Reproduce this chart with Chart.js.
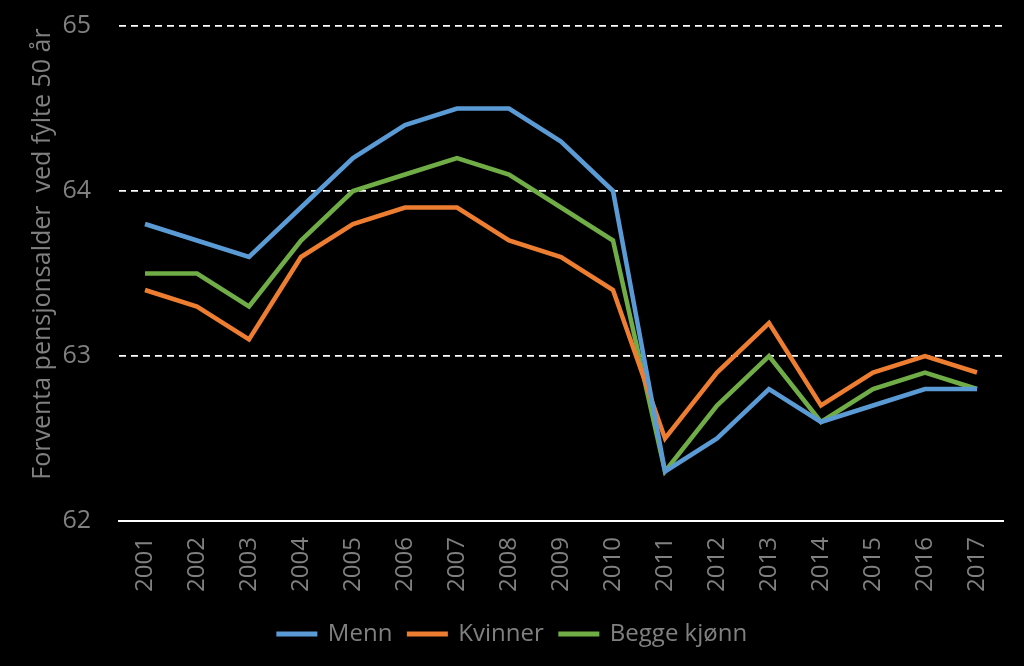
<!DOCTYPE html>
<html>
<head>
<meta charset="utf-8">
<script src="https://cdn.jsdelivr.net/npm/chart.js@4"></script>
<style>
  html, body { margin: 0; padding: 0; background: #000; }
  #wrap { width: 1024px; height: 666px; }
</style>
</head>
<body>
<div id="wrap"><canvas id="chart"></canvas></div>
<script>
"use strict";

// Årstall langs x-aksen
const years = ["2001", "2002", "2003", "2004", "2005", "2006", "2007", "2008", "2009",
  "2010", "2011", "2012", "2013", "2014", "2015", "2016", "2017"];

// Forventa pensjonsalder
const menn = [63.8, 63.7, 63.6, 63.9, 64.2, 64.4, 64.5, 64.5, 64.3, 64.0, 62.3, 62.5, 62.8, 62.6, 62.7, 62.8, 62.8];
const kvinner = [63.4, 63.3, 63.1, 63.6, 63.8, 63.9, 63.9, 63.7, 63.6, 63.4, 62.5, 62.9, 63.2, 62.7, 62.9, 63.0, 62.9];
const begge = [63.5, 63.5, 63.3, 63.7, 64.0, 64.1, 64.2, 64.1, 63.9, 63.7, 62.3, 62.7, 63.0, 62.6, 62.8, 62.9, 62.8];

const yTicks = [62, 63, 64, 65];

const grey = "#808080";
const font = "'Open Sans', 'DejaVu Sans', sans-serif";

function serie(label, data, color) {
  return {
    label: label,
    data: data,
    borderColor: color,
    backgroundColor: color,
    borderWidth: 4.5,
    pointRadius: 0,
    tension: 0,
    fill: false,
  };
}

new Chart(document.getElementById("chart"), {
  type: "line",
  data: {
    labels: years,
    datasets: [
      serie("Menn", menn, "#5b9bd5"),
      serie("Kvinner", kvinner, "#ed7d31"),
      serie("Begge kjønn", begge, "#70ad47"),
    ],
  },
  options: {
    responsive: true,
    maintainAspectRatio: false,
    animation: false,
    layout: { padding: { top: 26, right: 21, left: 22, bottom: 10 } },
    plugins: {
      tooltip: { enabled: false },
      legend: {
        position: "bottom",
        labels: {
          color: grey,
          font: { family: font, size: 24 },
          boxWidth: 38,
          boxHeight: 2,
          padding: 16,
          generateLabels: (chart) =>
            chart.data.datasets.map((ds, i) => ({
              text: ds.label,
              fillStyle: ds.borderColor,
              strokeStyle: ds.borderColor,
              lineWidth: 3,
              fontColor: grey,
              datasetIndex: i,
            })),
        },
      },
    },
    scales: {
      x: {
        offset: true,
        grid: { display: false, drawTicks: false },
        border: { display: true, color: "#ffffff", width: 2 },
        ticks: {
          color: grey,
          font: { family: font, size: 24 },
          maxRotation: 90,
          minRotation: 90,
          padding: 16,
        },
        afterFit: (axis) => { axis.height = 85; },
      },
      y: {
        min: 62,
        max: 65,
        afterBuildTicks: (axis) => { axis.ticks = yTicks.map((v) => ({ value: v })); },
        grid: {
          color: (ctx) => (ctx.tick && ctx.tick.value === 62 ? "rgba(0,0,0,0)" : "#ffffff"),
          lineWidth: 1.8,
          drawTicks: false,
        },
        border: { display: false, dash: [7, 5] },
        ticks: {
          color: grey,
          font: { family: font, size: 25 },
          padding: 28,
        },
        title: {
          display: true,
          text: "      Forventa pensjonsalder  ved fylte 50 år",
          color: grey,
          font: { family: font, size: 25 },
          padding: { top: 6, bottom: 0 },
        },
        afterFit: (axis) => {
          axis.width = 97;
          axis.paddingTop = 0;
          axis.paddingBottom = 0;
        },
      },
    },
  },
});
</script>
</body>
</html>
